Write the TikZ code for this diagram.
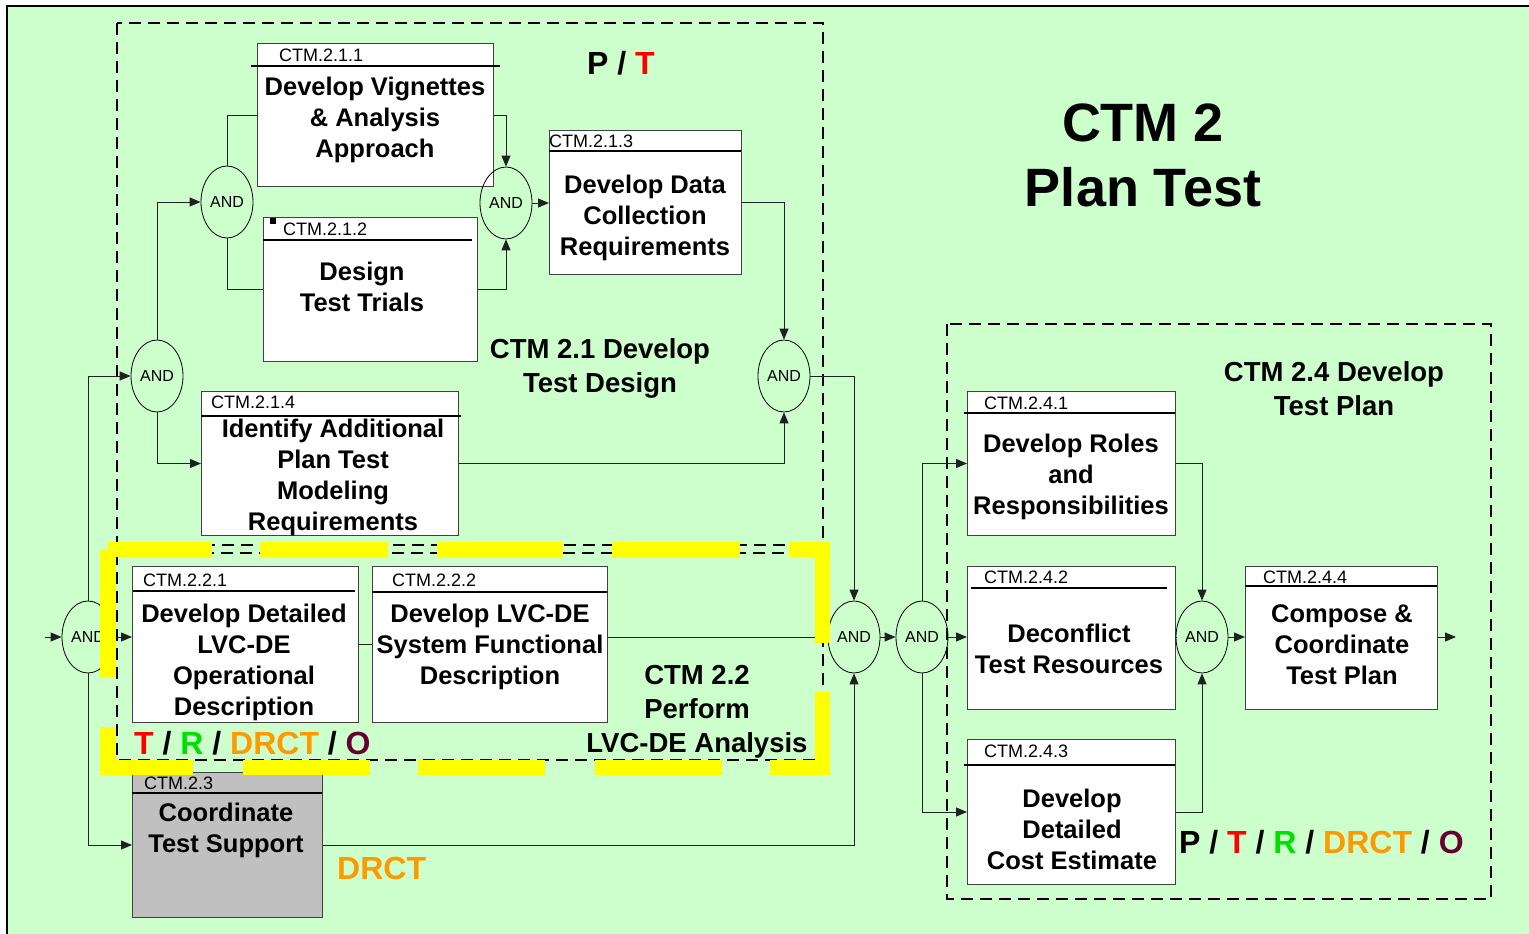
\documentclass[tikz,border=0pt]{standalone}
\usepackage{fontspec}
\setmainfont{Liberation Sans}
\usetikzlibrary{shapes.geometric,arrows.meta}
\definecolor{bg}{HTML}{CCFFCC}
\definecolor{ylw}{HTML}{FFFF00}
\definecolor{redT}{HTML}{FF0000}
\definecolor{grnR}{HTML}{00E000}
\definecolor{orgD}{HTML}{FF9900}
\definecolor{marO}{HTML}{660033}
\definecolor{boxc}{HTML}{404040}
\definecolor{linec}{HTML}{202020}
\definecolor{grayfill}{HTML}{C0C0C0}
\newcommand{\myhdrf}{\fontsize{18}{20}\selectfont}
\newcommand{\mybodyf}{\fontsize{25.5}{31}\selectfont\bfseries}
\newcommand{\myandf}{\fontsize{16}{18}\selectfont}
\newcommand{\mytitf}{\fontsize{27.5}{34}\selectfont\bfseries}
\newcommand{\mylblf}{\fontsize{32}{36}\selectfont\bfseries}
\newcommand{\mybigf}{\fontsize{54}{65}\selectfont\bfseries}
\begin{document}
\begin{tikzpicture}[x=1pt,y=-1pt,
  box/.style={draw=boxc, fill=white, line width=1pt, inner sep=0pt, anchor=north west},
  hdr/.style={font=\myhdrf, anchor=west, inner sep=0pt},
  btxt/.style={font=\mybodyf, align=center, inner sep=0pt},
  titl/.style={font=\mytitf, align=center, inner sep=0pt},
  lbl/.style={font=\mylblf, anchor=west, inner sep=0pt},
  andn/.style={ellipse, draw=black, line width=0.8pt, minimum width=52pt, minimum height=72pt, inner sep=0pt, font=\myandf},
  hline/.style={draw=black, line width=1.2pt},
  conn/.style={draw=linec, line width=1pt},
  arr/.style={conn, -{Triangle[length=11pt,width=9pt]}},
  dbox/.style={draw=black, line width=1.4pt, dash pattern=on 12pt off 7pt},
]
\useasboundingbox (0,0) rectangle (1529,934);
\fill[white] (0,0) rectangle (1529,934);
\fill[bg] (7,6) rectangle (1529,934);
\draw[line width=2pt] (7,934) -- (7,6) -- (1529,6);

% dashed group frames
\draw[dbox] (117,23) rectangle (823,545);
\draw[dbox] (117,553) rectangle (823,760);
\draw[dbox] (947,324) rectangle (1491,899);

% boxes
\node[box, minimum width=236pt, minimum height=143pt] (b211) at (257,43) {};
\node[box, minimum width=214pt, minimum height=144pt] (b212) at (263,217) {};
\node[box, minimum width=192pt, minimum height=144pt] (b213) at (549,130) {};
\node[box, minimum width=257pt, minimum height=144pt] (b214) at (201,391) {};
\node[box, minimum width=226pt, minimum height=156pt] (b221) at (132,566) {};
\node[box, minimum width=235pt, minimum height=156pt] (b222) at (372,566) {};
\node[box, fill=grayfill, minimum width=190pt, minimum height=145pt] (b23) at (132,772) {};
\node[box, minimum width=208pt, minimum height=144pt] (b241) at (967,391) {};
\node[box, minimum width=208pt, minimum height=143pt] (b242) at (967,566) {};
\node[box, minimum width=208pt, minimum height=145pt] (b243) at (967,739) {};
\node[box, minimum width=192pt, minimum height=143pt] (b244) at (1245,566) {};

% header lines
\draw[hline] (251,66) -- (500,66);
\draw[hline] (263,240) -- (472,240);
\draw[hline] (549,151) -- (741,151);
\draw[hline] (201,416) -- (461,416);
\draw[hline] (133,591) -- (355,591);
\draw[hline] (372,592) -- (607,592);
\draw[hline] (132,793) -- (322,793);
\draw[hline] (964,413) -- (1175,413);
\draw[hline] (971,588) -- (1167,588);
\draw[hline] (964,765) -- (1175,765);
\draw[hline] (1245,586) -- (1437,586);
\fill[black] (270,218) rectangle (276,224);

% header texts
\node[hdr] (h211) at (279,55) {CTM.2.1.1};
\node[hdr] (h212) at (283,229) {CTM.2.1.2};
\node[hdr] (h213) at (549,141) {CTM.2.1.3};
\node[hdr] (h214) at (211,402) {CTM.2.1.4};
\node[hdr] (h221) at (143,580) {CTM.2.2.1};
\node[hdr] (h222) at (392,580) {CTM.2.2.2};
\node[hdr] (h23) at (144,783) {CTM.2.3};
\node[hdr] (h241) at (984,403) {CTM.2.4.1};
\node[hdr] (h242) at (984,577) {CTM.2.4.2};
\node[hdr] (h243) at (984,751) {CTM.2.4.3};
\node[hdr] (h244) at (1263,577) {CTM.2.4.4};

% body texts
\node[btxt] (t211) at (375,120) {Develop Vignettes\\\& Analysis\\Approach};
\node[btxt] (t212) at (362,287) {Design\\Test Trials};
\node[btxt] (t213) at (645,218) {Develop Data\\Collection\\Requirements};
\node[btxt] (t214) at (333,477) {Identify Additional\\Plan Test\\Modeling\\Requirements};
\node[btxt] (t221) at (244,662) {Develop Detailed\\LVC-DE\\Operational\\Description};
\node[btxt] (t222) at (490,647) {Develop LVC-DE\\System Functional\\Description};
\node[btxt] (t23) at (226,830) {Coordinate\\Test Support};
\node[btxt] (t241) at (1071,477) {Develop Roles\\and\\Responsibilities};
\node[btxt] (t242) at (1069,649) {Deconflict\\Test Resources};
\node[btxt] (t243) at (1072,829) {Develop\\Detailed\\Cost Estimate};
\node[btxt] (t244) at (1342,645) {Compose \&\\Coordinate\\Test Plan};

% AND junctions
\node[andn] (a1) at (227,202) {AND};
\node[andn] (a2) at (506,203) {AND};
\node[andn] (a3) at (157,376) {AND};
\node[andn] (a4) at (784,376) {AND};
\node[andn] (a5) at (88,637) {AND};
\node[andn] (a6) at (854,637) {AND};
\node[andn] (a7) at (922,637) {AND};
\node[andn] (a8) at (1202,637) {AND};

\coordinate (cin) at (45,637);
\coordinate (cout) at (1456,637);

% connectors
\draw[arr] (cin) -- (a5.west);
\draw[arr] (a5.north) |- (a3.west);
\draw[arr] (a5.east) -- (a5.east -| b221.west);
\draw[arr] (a5.south) |- (b23.west);
\draw[arr] (a3.north) |- (a1.west);
\draw[arr] (a3.south) |- (b214.west);
\draw[conn] (a1.north) |- (b211.west);
\draw[conn] (a1.south) |- (b212.west);
\draw[arr] (b211.east) -| (a2.north);
\draw[arr] (b212.east) -| (a2.south);
\draw[arr] (a2.east) -- (a2.east -| b213.west);
\draw[arr] (b213.east) -| (a4.north);
\draw[arr] (b214.east) -| (a4.south);
\draw[arr] (a4.east) -| (a6.north);
\draw[conn] (b221.east) -- (b222.west);
\draw[conn] (b222.east |- a6.west) -- (a6.west);
\draw[arr] (b23.east) -| (a6.south);
\draw[arr] (a6.east) -- (a7.west);
\draw[arr] (a7.north) |- (b241.west);
\draw[arr] (a7.east) -- (a7.east -| b242.west);
\draw[arr] (a7.south) |- (b243.west);
\draw[arr] (b241.east) -| (a8.north);
\draw[conn] (b242.east |- a8.west) -- (a8.west);
\draw[arr] (b243.east) -| (a8.south);
\draw[arr] (a8.east) -- (a8.east -| b244.west);
\draw[arr] (b244.east |- cout) -- (cout);

% yellow highlight frame
\foreach \xa/\xb in {108/212, 260/388, 437/563, 612/740, 789/830}
  \fill[ylw] (\xa,542) rectangle (\xb,557);
\foreach \xa/\xb in {100/193, 243/370, 418/545, 595/722, 770/830}
  \fill[ylw] (\xa,760) rectangle (\xb,775);
\fill[ylw] (100,549) rectangle (116,677);
\fill[ylw] (100,727) rectangle (116,775);
\fill[ylw] (815,542) rectangle (830,643);
\fill[ylw] (815,692) rectangle (830,775);

% titles
\node[font=\mybigf, align=center, inner sep=0pt] (ttl) at (1143,155) {CTM 2\\Plan Test};
\node[titl] (g21) at (600,368) {CTM 2.1 Develop\\Test Design};
\node[titl] (g22) at (697,712) {CTM 2.2\\Perform\\LVC-DE Analysis};
\node[titl] (g24) at (1334,389) {CTM 2.4 Develop\\Test Plan};

% role labels
\node[lbl] (l1) at (587,63) {P / \textcolor{redT}{T}};
\node[lbl] (l2) at (134,743) {\textcolor{redT}{T} / \textcolor{grnR}{R} / \textcolor{orgD}{DRCT} / \textcolor{marO}{O}};
\node[lbl, text=orgD] (l3) at (337,868) {DRCT};
\node[lbl] (l4) at (1179,842) {P / \textcolor{redT}{T} / \textcolor{grnR}{R} / \textcolor{orgD}{DRCT} / \textcolor{marO}{O}};
\end{tikzpicture}
\end{document}
